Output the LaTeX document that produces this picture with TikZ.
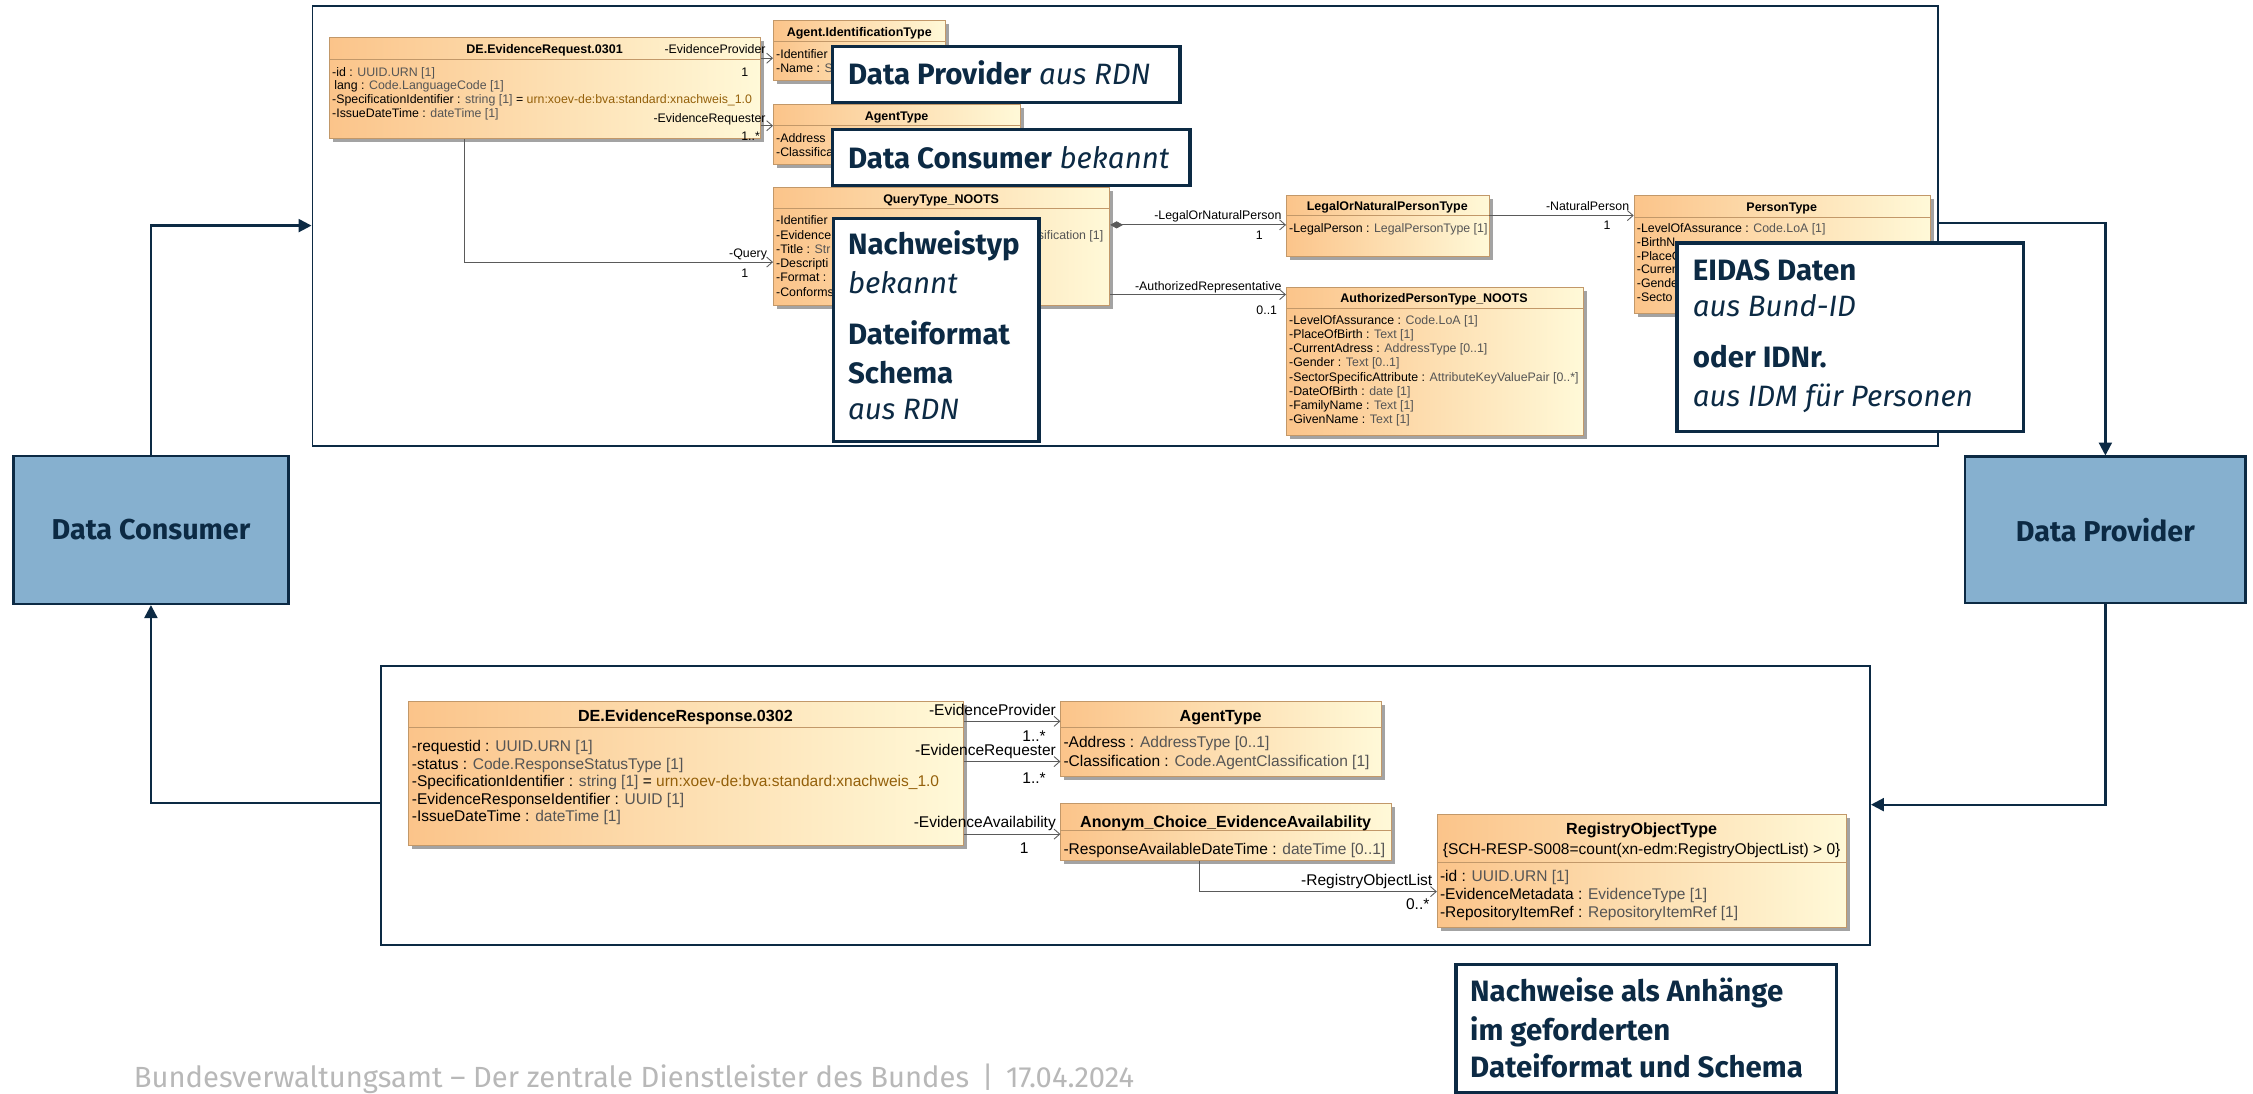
\documentclass[tikz,border=0pt]{standalone}
\usepackage{fontspec}
\setmainfont{Liberation Sans}
\newfontfamily\umlfont{Liberation Sans}
\newfontfamily\callfont{Fira Sans}
\usetikzlibrary{arrows.meta,shadows,calc}
\definecolor{navy}{HTML}{0C2A44}
\definecolor{bluebox}{HTML}{86B0CF}
\definecolor{umlL}{HTML}{FBC48A}
\definecolor{umlR}{HTML}{FFF9D8}
\definecolor{umlB}{HTML}{C29869}
\definecolor{typegray}{HTML}{555555}
\definecolor{valbrown}{HTML}{94600A}
\definecolor{footgray}{HTML}{B8B8B8}
\definecolor{linegray}{HTML}{5A5A5A}
\newcommand\ty[1]{\textcolor{typegray}{#1}}
\newcommand\va[1]{\textcolor{valbrown}{#1}}
\tikzset{
 frame/.style={draw=navy, line width=1.3pt, fill=white, inner sep=0, anchor=north west},
 actor/.style={draw=navy, line width=1.5pt, fill=bluebox, font=\callfont\bfseries\fontsize{20}{24}\selectfont, text=navy, inner sep=0, anchor=north west},
 flow/.style={draw=navy, line width=1.6pt, -{Triangle[length=9pt,width=9pt]}},
 umlbox/.style={draw=umlB, line width=0.6pt, left color=umlL, right color=umlR, inner sep=0, anchor=north west,
   drop shadow={shadow xshift=2.5pt, shadow yshift=-2.5pt, fill=black!45, opacity=0.8}},
 umlsep/.style={draw=umlB, line width=0.6pt},
 ttl/.style={font=\umlfont\bfseries\fontsize{8.7}{10}\selectfont, inner sep=0, anchor=base},
 att/.style={font=\umlfont\fontsize{8.6}{10}\selectfont, inner sep=0, anchor=base west},
 role/.style={font=\umlfont\fontsize{8.6}{10}\selectfont, inner sep=0, anchor=base east},
 bttl/.style={font=\umlfont\bfseries\fontsize{11.2}{13}\selectfont, inner sep=0, anchor=base},
 batt/.style={font=\umlfont\fontsize{10.8}{13}\selectfont, inner sep=0, anchor=base west},
 brole/.style={font=\umlfont\fontsize{10.8}{13}\selectfont, inner sep=0, anchor=base east},
 assoc/.style={draw=linegray, line width=0.6pt, -{Straight Barb[length=4pt,width=7pt]}},
 comp/.style={draw=linegray, line width=0.6pt, {Diamond[length=9pt,width=5pt,fill=linegray]}-{Straight Barb[length=4pt,width=7pt]}},
 callout/.style={draw=navy, line width=2.4pt, fill=white, inner sep=0, anchor=north west},
 ctext/.style={font=\callfont\fontsize{20.5}{24}\selectfont, text=navy, inner sep=0, anchor=base west},
}
\begin{document}
\begin{tikzpicture}[x=1pt,y=-1pt]
\useasboundingbox (0,0) rectangle (1568,761);
\fill[white] (0,0) rectangle (1568,761);

% frames
\node[frame, minimum width=1131.5pt, minimum height=306.5pt] (ftop) at (216.8,3.5) {};
\node[frame, minimum width=1036pt, minimum height=194pt] (fbot) at (264.8,463) {};

% actors
\node[actor, minimum width=191.4pt, minimum height=103pt] (dc) at (8.6,316.6) {Data Consumer};
\node[actor, minimum width=195pt, minimum height=102pt] (dp) at (1367,317) {Data Provider};

% flows
\draw[flow] (dc.north) |- (ftop.west |- 0,157);
\draw[flow] (ftop.east |- 0,155) -| (dp.north);
\draw[flow] (dp.south) |- (fbot.east |- 0,560);
\draw[flow] (fbot.west |- 0,559) -| (dc.south);

% ===== top UML =====
\node[umlbox, minimum width=300pt, minimum height=70pt] (er) at (229,26) {};
\draw[umlsep] (er.west |- 0,41.5) -- (er.east |- 0,41.5);
\node[ttl] (erT) at (379,37.2) {DE.EvidenceRequest.0301};
\node[att] (erA1) at (231,53) {-id : \ty{UUID.URN [1]}};
\node[att] (erA2) at (232.5,62.5) {lang : \ty{Code.LanguageCode [1]}};
\node[att] (erA3) at (231,72) {-SpecificationIdentifier : \ty{string [1]} = \va{urn:xoev-de:bva:standard:xnachweis\_1.0}};
\node[att] (erA4) at (231,81.5) {-IssueDateTime : \ty{dateTime [1]}};

\node[umlbox, minimum width=120pt, minimum height=42pt] (ait) at (538,14) {};
\draw[umlsep] (ait.west |- 0,29) -- (ait.east |- 0,29);
\node[ttl] (aitT) at (598,25.5) {Agent.IdentificationType};
\node[att] (aitA1) at (540,40.5) {-Identifier};
\node[att] (aitA2) at (540,50.5) {-Name : \ty{S}};

\node[umlbox, minimum width=172pt, minimum height=41.5pt] (at1) at (538,72.5) {};
\draw[umlsep] (at1.west |- 0,87.5) -- (at1.east |- 0,87.5);
\node[ttl] (at1T) at (624,84) {AgentType};
\node[att] (at1A1) at (540,99) {-Address};
\node[att] (at1A2) at (540,109) {-Classifica};

\node[umlbox, minimum width=234pt, minimum height=82pt] (qt) at (538,130) {};
\draw[umlsep] (qt.west |- 0,145) -- (qt.east |- 0,145);
\node[ttl] (qtT) at (655,141.5) {QueryType\_NOOTS};
\node[att] (qtA1) at (540,156.5) {-Identifier};
\node[att] (qtA2) at (540,166.4) {-Evidence};
\node[att] (qtA3) at (540,176.3) {-Title : \ty{Str}};
\node[att] (qtA4) at (540,186.2) {-Descripti};
\node[att] (qtA5) at (540,196.1) {-Format : };
\node[att] (qtA6) at (540,206) {-Conforms};
\node[att, anchor=base east] (qtA2b) at (768,166.4) {\ty{sification [1]}};

\node[umlbox, minimum width=141pt, minimum height=42pt] (lnp) at (895,136) {};
\draw[umlsep] (lnp.west |- 0,150) -- (lnp.east |- 0,150);
\node[ttl] (lnpT) at (965.5,146.5) {LegalOrNaturalPersonType};
\node[att] (lnpA1) at (897,162) {-LegalPerson : \ty{LegalPersonType [1]}};

\node[umlbox, minimum width=206.5pt, minimum height=103pt] (apt) at (895,200) {};
\draw[umlsep] (apt.west |- 0,214.5) -- (apt.east |- 0,214.5);
\node[ttl] (aptT) at (998,210.5) {AuthorizedPersonType\_NOOTS};
\node[att] (aptA1) at (897,226) {-LevelOfAssurance : \ty{Code.LoA [1]}};
\node[att] (aptA2) at (897,235.8) {-PlaceOfBirth : \ty{Text [1]}};
\node[att] (aptA3) at (897,245.6) {-CurrentAdress : \ty{AddressType [0..1]}};
\node[att] (aptA4) at (897,255.4) {-Gender : \ty{Text [0..1]}};
\node[att] (aptA5) at (897,265.2) {-SectorSpecificAttribute : \ty{AttributeKeyValuePair [0..*]}};
\node[att] (aptA6) at (897,275) {-DateOfBirth : \ty{date [1]}};
\node[att] (aptA7) at (897,284.8) {-FamilyName : \ty{Text [1]}};
\node[att] (aptA8) at (897,294.6) {-GivenName : \ty{Text [1]}};

\node[umlbox, minimum width=206pt, minimum height=82pt] (pt) at (1137,136) {};
\draw[umlsep] (pt.west |- 0,151) -- (pt.east |- 0,151);
\node[ttl] (ptT) at (1240,147.5) {PersonType};
\node[att] (ptA1) at (1139,162) {-LevelOfAssurance : \ty{Code.LoA [1]}};
\node[att] (ptA2) at (1139,171.5) {-BirthN};
\node[att] (ptA3) at (1139,181) {-PlaceO};
\node[att] (ptA4) at (1139,190.5) {-Curren};
\node[att] (ptA5) at (1139,200) {-Gende};
\node[att] (ptA6) at (1139,209.5) {-Secto};

% top associations
\draw[assoc] (er.east |- 0,40.5) -- (ait.west |- 0,40.5);
\draw[assoc] (er.east |- 0,87.5) -- (at1.west |- 0,87.5);
\draw[assoc] (er.south -| 323,0) |- (qt.west |- 0,182.4);
\draw[comp] (qt.east |- 0,156.5) -- (lnp.west |- 0,156.5);
\draw[assoc] (qt.east |- 0,205) -- (apt.west |- 0,205);
\draw[assoc] (lnp.east |- 0,150) -- (pt.west |- 0,150);

\node[role] (r1) at (533,37.5) {-EvidenceProvider};
\node[role] (r1m) at (521,53) {1};
\node[role] (r2) at (533,85) {-EvidenceRequester};
\node[role] (r2m) at (529,97.5) {1..*};
\node[role] (r3) at (534,179) {-Query};
\node[role] (r3m) at (521,193) {1};
\node[role] (r4) at (892,152.5) {-LegalOrNaturalPerson};
\node[role] (r4m) at (879,166.5) {1};
\node[role] (r5) at (892,202.5) {-AuthorizedRepresentative};
\node[role] (r5m) at (889,219) {0..1};
\node[role] (r6) at (1134,146.5) {-NaturalPerson};
\node[role] (r6m) at (1121,160) {1};

% ===== bottom UML =====
\node[umlbox, minimum width=386pt, minimum height=100pt] (ers) at (284,488) {};
\draw[umlsep] (ers.west |- 0,506.5) -- (ers.east |- 0,506.5);
\node[bttl] (ersT) at (477,502) {DE.EvidenceResponse.0302};
\node[batt] (ersA1) at (286.5,523) {-requestid : \ty{UUID.URN [1]}};
\node[batt] (ersA2) at (286.5,535.2) {-status : \ty{Code.ResponseStatusType [1]}};
\node[batt] (ersA3) at (286.5,547.5) {-SpecificationIdentifier : \ty{string [1]} = \va{urn:xoev-de:bva:standard:xnachweis\_1.0}};
\node[batt] (ersA4) at (286.5,559.6) {-EvidenceResponseIdentifier : \ty{UUID [1]}};
\node[batt] (ersA5) at (286.5,571.9) {-IssueDateTime : \ty{dateTime [1]}};

\node[umlbox, minimum width=223pt, minimum height=52pt] (at2) at (738,488) {};
\draw[umlsep] (at2.west |- 0,506) -- (at2.east |- 0,506);
\node[bttl] (at2T) at (849.5,502) {AgentType};
\node[batt] (at2A1) at (740,520.5) {-Address : \ty{AddressType [0..1]}};
\node[batt] (at2A2) at (740,533.5) {-Classification : \ty{Code.AgentClassification [1]}};

\node[umlbox, minimum width=230pt, minimum height=39.5pt] (ace) at (738,559) {};
\draw[umlsep] (ace.west |- 0,577.6) -- (ace.east |- 0,577.6);
\node[bttl] (aceT) at (853,576) {Anonym\_Choice\_EvidenceAvailability};
\node[batt] (aceA1) at (740,594.5) {-ResponseAvailableDateTime : \ty{dateTime [0..1]}};

\node[umlbox, minimum width=285pt, minimum height=78.5pt] (rot) at (1000,566.5) {};
\draw[umlsep] (rot.west |- 0,600.4) -- (rot.east |- 0,600.4);
\node[bttl] (rotT) at (1142.5,580.5) {RegistryObjectType};
\node[batt, anchor=base] (rotC) at (1142.5,595) {\{SCH-RESP-S008=count(xn-edm:RegistryObjectList) > 0\}};
\node[batt] (rotA1) at (1002,613.5) {-id : \ty{UUID.URN [1]}};
\node[batt] (rotA2) at (1002,626) {-EvidenceMetadata : \ty{EvidenceType [1]}};
\node[batt] (rotA3) at (1002,638.5) {-RepositoryItemRef : \ty{RepositoryItemRef [1]}};

\draw[assoc] (ers.east |- 0,502) -- (at2.west |- 0,502);
\draw[assoc] (ers.east |- 0,530) -- (at2.west |- 0,530);
\draw[assoc] (ers.east |- 0,580.5) -- (ace.west |- 0,580.5);
\draw[assoc] (ace.south -| 834.5,0) |- (rot.west |- 0,620.5);

\node[brole] (b1) at (735,498) {-EvidenceProvider};
\node[brole] (b1m) at (728,516) {1..*};
\node[brole] (b2) at (735,525.5) {-EvidenceRequester};
\node[brole] (b2m) at (728,545) {1..*};
\node[brole] (b3) at (735,576) {-EvidenceAvailability};
\node[brole] (b3m) at (716,594) {1};
\node[brole] (b4) at (997,616) {-RegistryObjectList};
\node[brole] (b4m) at (995,633) {0..*};

% ===== callouts =====
\node[callout, minimum width=242pt, minimum height=39pt] (c1) at (578,31) {};
\node[ctext] (c1t) at (590,58.5) {\textbf{Data Provider} \textit{aus RDN}};
\node[callout, minimum width=249pt, minimum height=39pt] (c2) at (578,89) {};
\node[ctext] (c2t) at (590,117) {\textbf{Data Consumer} \textit{bekannt}};
\node[callout, minimum width=143pt, minimum height=155pt] (c3) at (579,151) {};
\node[ctext] (c3a) at (590,177) {\textbf{Nachweistyp}};
\node[ctext] (c3b) at (590,204) {\textit{bekannt}};
\node[ctext] (c3c) at (590,240) {\textbf{Dateiformat}};
\node[ctext] (c3d) at (590,267) {\textbf{Schema}};
\node[ctext] (c3e) at (590,292) {\textit{aus RDN}};
\node[callout, minimum width=241pt, minimum height=131pt] (c4) at (1166,168) {};
\node[ctext] (c4a) at (1178,195) {\textbf{EIDAS Daten}};
\node[ctext] (c4b) at (1178,220.6) {\textit{aus Bund-ID}};
\node[ctext] (c4c) at (1178,256) {\textbf{oder IDNr.}};
\node[ctext] (c4d) at (1178,283) {\textit{aus IDM für Personen}};
\node[callout, minimum width=265pt, minimum height=89pt] (c5) at (1012,670) {};
\node[ctext] (c5a) at (1023,697) {\textbf{Nachweise als Anhänge}};
\node[ctext] (c5b) at (1023,724) {\textbf{im geforderten}};
\node[ctext] (c5c) at (1023,750) {\textbf{Dateiformat und Schema}};

% footer
\node[font=\callfont\fontsize{20.3}{23}\selectfont, text=footgray, inner sep=0, anchor=base west] (foot) at (93,757) {Bundesverwaltungsamt – Der zentrale Dienstleister des Bundes \,|\, 17.04.2024};
\end{tikzpicture}
\end{document}
